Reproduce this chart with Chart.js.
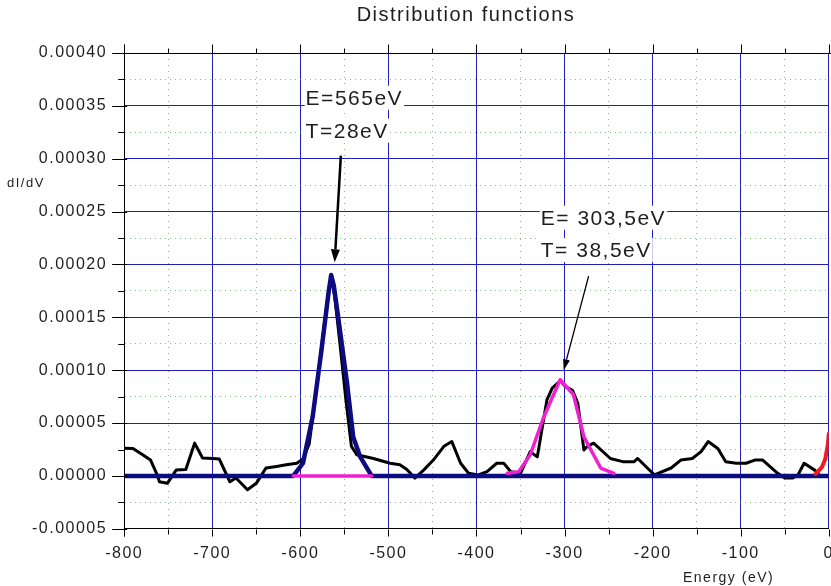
<!DOCTYPE html>
<html>
<head>
<meta charset="utf-8">
<script src="https://cdn.jsdelivr.net/npm/chart.js@4/dist/chart.umd.min.js"></script>
<style>
  html, body { margin: 0; padding: 0; overflow: hidden; background: #fff; }
</style>
</head>
<body>
<canvas id="myChart" width="849" height="586"></canvas>
<script>
// axis ticks
const xMajor = [-800, -700, -600, -500, -400, -300, -200, -100, 0];
const xMinor = [-750, -650, -550, -450, -350, -250, -150, -50];
const yMajor = [-0.00005, 0, 0.00005, 0.0001, 0.00015, 0.0002, 0.00025, 0.0003, 0.00035, 0.0004];
const yMinor = [-0.000025, 0.000025, 0.000075, 0.000125, 0.000175, 0.000225, 0.000275, 0.000325, 0.000375];
const yTickLabels = ['-0.00005', '0.00000', '0.00005', '0.00010', '0.00015', '0.00020', '0.00025', '0.00030', '0.00035', '0.00040'];

// measured dI/dV (black)
const measE = [-800, -790, -779, -770, -762, -760, -751, -741, -730, -720, -711, -699, -692, -680, -673, -660, -650, -639, -627, -616,
  -604, -597, -590, -582, -574, -568, -565, -561, -555, -548, -542, -536, -517, -498, -487, -479, -470, -460, -449, -437,
  -428, -418, -409, -398, -388, -377, -369, -361, -350, -339, -331, -320, -314, -305, -299, -291, -285, -278, -274, -267,
  -248, -234, -221, -217, -206, -198, -179, -168, -155, -145, -137, -126, -117, -105, -94, -84, -75, -58, -50, -41,
  -35, -28, -16, -12];
const measY = [2.62e-5, 2.6e-5, 2.0e-5, 1.5e-5, 0, -0.55e-5, -0.7e-5, 0.55e-5, 0.6e-5, 3.1e-5, 1.7e-5, 1.65e-5, 1.6e-5, -0.55e-5, -0.2e-5, -1.3e-5, -0.7e-5, 0.75e-5, 0.9e-5, 1.05e-5,
  1.2e-5, 1.6e-5, 3.0e-5, 8.0e-5, 13.5e-5, 17.5e-5, 18.9e-5, 17.0e-5, 12.5e-5, 7.0e-5, 2.8e-5, 2.0e-5, 1.65e-5, 1.2e-5, 1.05e-5, 0.6e-5, -0.2e-5, 0.55e-5, 1.5e-5, 2.8e-5,
  3.25e-5, 1.2e-5, 0.25e-5, 0.1e-5, 0.4e-5, 1.2e-5, 1.2e-5, 0.4e-5, 0.25e-5, 2.3e-5, 1.8e-5, 7.2e-5, 8.3e-5, 9.0e-5, 8.45e-5, 8.1e-5, 6.9e-5, 2.45e-5, 2.8e-5, 3.1e-5,
  1.65e-5, 1.35e-5, 1.35e-5, 1.65e-5, 0.75e-5, 0.1e-5, 0.75e-5, 1.5e-5, 1.65e-5, 2.3e-5, 3.25e-5, 2.6e-5, 1.35e-5, 1.2e-5, 1.2e-5, 1.5e-5, 1.5e-5, 0.25e-5, -0.2e-5, -0.2e-5,
  0.1e-5, 1.2e-5, 0.55e-5, 0.25e-5];

// fit 1 (navy), E=565eV
const fit1E = [-800, -608, -597, -586, -576, -568, -565, -562, -557, -547, -540, -532, -519, 0];
const fit1Y = [0, 0, 1.2e-5, 5.6e-5, 11.9e-5, 17.3e-5, 19.0e-5, 18.0e-5, 15.0e-5, 8.8e-5, 3.7e-5, 1.8e-5, 0, 0];

// fit 2 (magenta), E=303,5eV
const fit2E = [-608, -519, -440, -365, -352, -339, -324, -305, -290, -278, -259, -244];
const fit2Y = [0, 0, null, 0.25e-5, 0.4e-5, 2.0e-5, 5.5e-5, 9.1e-5, 7.7e-5, 3.7e-5, 0.75e-5, 0.25e-5];

// fit 3 (red), near 0 eV
const fit3E = [-15, -8, -4, -1, 0, 4];
const fit3Y = [0.2e-5, 0.8e-5, 1.6e-5, 3.0e-5, 4.0e-5, 8.0e-5];

const pts = (xs, ys) => xs.map((v, i) => ({ x: v, y: ys[i] }));
const isMajorY = v => yMajor.some(m => Math.abs(m - v) < 1e-9);
const isMajorX = v => xMajor.includes(v);

const FONT = '"Liberation Sans", Arial, sans-serif';
const TXT = '#1e1e1e';
const BLUE = '#1f1fb8';
const GREEN = 'rgba(80,180,80,0.75)';
Chart.defaults.font.family = FONT;

function arrow(ctx, x1, y1, x2, y2, w, head, half) {
  const a = Math.atan2(y2 - y1, x2 - x1);
  const bx = x2 - head * Math.cos(a), by = y2 - head * Math.sin(a);
  ctx.lineWidth = w;
  ctx.beginPath();
  ctx.moveTo(x1, y1);
  ctx.lineTo(bx, by);
  ctx.stroke();
  ctx.beginPath();
  ctx.moveTo(x2, y2);
  ctx.lineTo(bx + half * Math.sin(a), by - half * Math.cos(a));
  ctx.lineTo(bx - half * Math.sin(a), by + half * Math.cos(a));
  ctx.closePath();
  ctx.fill();
}

function boxedText(ctx, text, px, py) {
  const w = ctx.measureText(text).width;
  ctx.fillStyle = '#fff';
  ctx.fillRect(px - 1, py - 19, w + 2, 24);
  ctx.fillStyle = TXT;
  ctx.fillText(text, px, py);
}

const deco = {
  id: 'deco',
  beforeUpdate(chart) { chart.ctx.letterSpacing = '1.5px'; },
  beforeDraw(chart) { chart.ctx.letterSpacing = '1.5px'; },
  afterDatasetsDraw(chart) {
    const { ctx, chartArea: a, scales: { x, y } } = chart;
    ctx.save();
    ctx.strokeStyle = '#000';
    ctx.lineWidth = 1;
    ctx.beginPath();
    const t = Math.round(a.top) + 0.5, b = Math.round(a.bottom) + 0.5, l = Math.round(a.left) + 0.5;
    ctx.moveTo(a.left, t); ctx.lineTo(a.right + 20, t);
    ctx.moveTo(l, t - 9); ctx.lineTo(l, b + 7);
    xMajor.forEach(v => {
      const px = Math.round(x.getPixelForValue(v)) + 0.5;
      ctx.moveTo(px, b); ctx.lineTo(px, b + 7);
      ctx.moveTo(px, t); ctx.lineTo(px, t - 9);
    });
    xMinor.forEach(v => {
      const px = Math.round(x.getPixelForValue(v)) + 0.5;
      ctx.moveTo(px, b); ctx.lineTo(px, b + 5);
      ctx.moveTo(px, t); ctx.lineTo(px, t - 5);
    });
    yMajor.forEach(v => {
      const py = Math.round(y.getPixelForValue(v)) + 0.5;
      ctx.moveTo(a.left - 12, py); ctx.lineTo(a.left + 3, py);
    });
    yMinor.forEach(v => {
      const py = Math.round(y.getPixelForValue(v)) + 0.5;
      ctx.moveTo(a.left - 6, py); ctx.lineTo(a.left, py);
    });
    ctx.stroke();

    // annotations
    ctx.font = '21px ' + FONT;
    ctx.textBaseline = 'alphabetic';
    ctx.textAlign = 'left';
    boxedText(ctx, 'E=565eV', x.getPixelForValue(-594), y.getPixelForValue(3.51e-4));
    boxedText(ctx, 'T=28eV', x.getPixelForValue(-594), y.getPixelForValue(3.2e-4));
    boxedText(ctx, 'E= 303,5eV', x.getPixelForValue(-327), y.getPixelForValue(2.375e-4));
    boxedText(ctx, 'T= 38,5eV', x.getPixelForValue(-327), y.getPixelForValue(2.07e-4));

    ctx.strokeStyle = '#000';
    ctx.fillStyle = '#000';
    arrow(ctx, x.getPixelForValue(-554), y.getPixelForValue(3.03e-4),
      x.getPixelForValue(-561), y.getPixelForValue(2.02e-4), 2.5, 13, 4.5);
    arrow(ctx, x.getPixelForValue(-272.7), y.getPixelForValue(1.89e-4),
      x.getPixelForValue(-301), y.getPixelForValue(1.0e-4), 1.3, 11, 3.5);
    ctx.restore();
  },
  afterDraw(chart) {
    const ctx = chart.ctx;
    ctx.save();
    ctx.fillStyle = TXT;
    ctx.textBaseline = 'middle';
    ctx.textAlign = 'center';
    ctx.font = '20px ' + FONT;
    ctx.fillText('Distribution functions', 466, 15);
    ctx.textAlign = 'left';
    ctx.font = '13px ' + FONT;
    ctx.fillText('dI/dV', 7, 183);
    ctx.font = '14px ' + FONT;
    ctx.fillText('Energy (eV)', 683, 578);
    ctx.restore();
  }
};

const ctx = document.getElementById('myChart').getContext('2d');
new Chart(ctx, {
  type: 'line',
  data: {
    datasets: [
      { label: 'fit3', data: pts(fit3E, fit3Y), borderColor: '#ee1c1c', borderWidth: 4, order: 0 },
      { label: 'fit2', data: pts(fit2E, fit2Y), borderColor: '#f020d0', borderWidth: 3.5, order: 1, spanGaps: false },
      { label: 'fit1', data: pts(fit1E, fit1Y), borderColor: '#0c0c80', borderWidth: 4.5, order: 2 },
      { label: 'measured', data: pts(measE, measY), borderColor: '#000', borderWidth: 3, order: 3 }
    ]
  },
  options: {
    responsive: false,
    animation: false,
    layout: { padding: { top: 53, left: 15, right: 19, bottom: 8 } },
    elements: {
      point: { radius: 0 },
      line: { tension: 0, borderJoinStyle: 'round', borderCapStyle: 'round' }
    },
    plugins: { legend: { display: false }, tooltip: { enabled: false }, title: { display: false } },
    scales: {
      x: {
        type: 'linear',
        min: -800,
        max: 0,
        afterBuildTicks: s => { s.ticks = [...xMajor, ...xMinor].sort((p, q) => p - q).map(v => ({ value: v })); },
        ticks: {
          autoSkip: false,
          maxRotation: 0,
          padding: 15,
          color: TXT,
          font: { size: 16 },
          callback: v => isMajorX(v) ? String(v) : ''
        },
        grid: {
          drawTicks: false,
          color: c => (c.tick && isMajorX(c.tick.value)) ? BLUE : GREEN,
          lineWidth: 1
        },
        border: {
          color: '#000',
          width: 1,
          dash: c => (c.tick && !isMajorX(c.tick.value)) ? [1, 5] : []
        }
      },
      y: {
        type: 'linear',
        min: -0.00005,
        max: 0.0004,
        afterBuildTicks: s => { s.ticks = [...yMajor, ...yMinor].sort((p, q) => p - q).map(v => ({ value: v })); },
        ticks: {
          autoSkip: false,
          padding: 17,
          color: TXT,
          font: { size: 16 },
          callback: v => {
            const i = yMajor.findIndex(m => Math.abs(m - v) < 1e-9);
            return i >= 0 ? yTickLabels[i] : '';
          }
        },
        grid: {
          drawTicks: false,
          color: c => (c.tick && isMajorY(c.tick.value)) ? BLUE : GREEN,
          lineWidth: 1
        },
        border: {
          color: '#000',
          width: 1,
          dash: c => (c.tick && !isMajorY(c.tick.value)) ? [1, 4] : []
        }
      }
    }
  },
  plugins: [deco]
});
</script>
</body>
</html>
